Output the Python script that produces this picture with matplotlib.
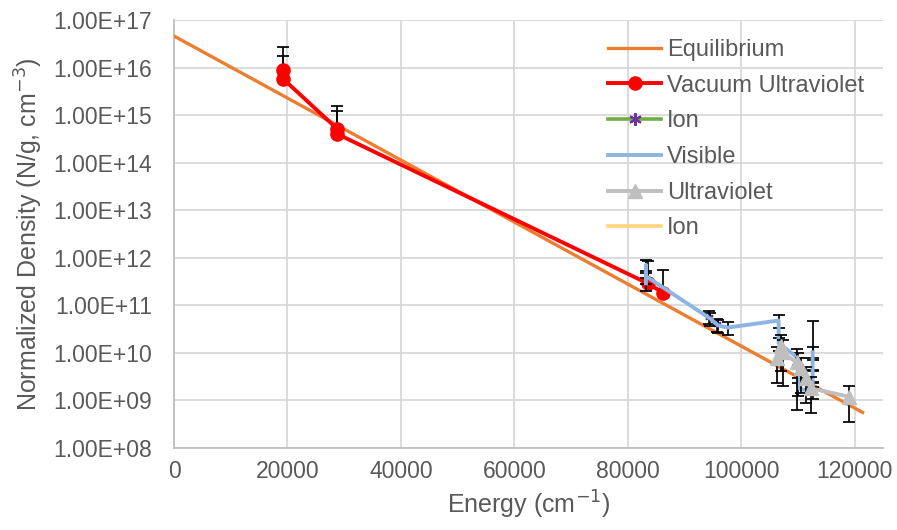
import matplotlib
matplotlib.use("Agg")
import matplotlib.pyplot as plt
from matplotlib.ticker import FixedLocator, FuncFormatter
from matplotlib.lines import Line2D

# ---------------- data ----------------
eq_x = [0, 121400]
eq_y = [4.6e16, 5.6e8]

vuv_x = [19300, 19300, 28800, 28800, 83500, 86200]
vuv_y = [8.9e15, 5.7e15, 5.1e14, 4.0e14, 2.9e11, 1.85e11]
vuv_err_plus = [2.0, 2.0, 2.0, 2.0, 2.0, 2.0]
vuv_err_minus = [0.0, 0.0, 0.0, 0.0, 0.0, 0.0]

ion_x = [94400, 95800]
ion_y = [5.8e10, 4.0e10]
ion_err = [0.3, 0.3]

vis_x = [83200, 83200, 83200, 94500, 95900, 97600, 106600, 106600,
         110100, 110100, 110100, 112600, 112600, 112600, 112600]
vis_y = [2.9e11, 7.0e11, 4.1e11, 5.3e10, 3.8e10, 3.4e10, 4.8e10, 1.6e10,
         7.7e9, 4.3e9, 1.8e9, 1.5e9, 3.4e9, 6.0e9, 1.03e10]
vis_err = [0.3] * 15

uv_x = [106300, 107000, 107300, 109800, 110600, 111400, 112300, 119000]
uv_y = [7.7e9, 1.37e10, 1.02e10, 6.3e9, 4.7e9, 2.9e9, 1.8e9, 1.2e9]
uv_err = [0.7, 0.7, 0.8, 0.9, 0.7, 0.7, 0.7, 0.7]

ion2_x = [112600]
ion2_y = [2.5e10]
ion2_err = [0.9]

x_ticks = [0, 20000, 40000, 60000, 80000, 100000, 120000]
y_ticks = [1e8, 1e9, 1e10, 1e11, 1e12, 1e13, 1e14, 1e15, 1e16, 1e17]

# ---------------- style ----------------
plt.rcParams['font.family'] = ['Liberation Sans', 'DejaVu Sans']
TXT = '#595959'
GRID = '#D9D9D9'

fig = plt.figure(figsize=(8.97, 5.30), dpi=100)
ax = fig.add_axes([174/897, 1 - 448/530, (883-174)/897, (448-20)/530])

ax.set_yscale('log')
ax.set_xlim(0, 125000)
ax.set_ylim(1e8, 1e17)

ax.xaxis.set_major_locator(FixedLocator(x_ticks))
ax.yaxis.set_major_locator(FixedLocator(y_ticks))
ax.yaxis.set_minor_locator(FixedLocator([]))
ax.xaxis.set_major_formatter(FuncFormatter(lambda v, p: f"{int(v)}"))
ax.yaxis.set_major_formatter(FuncFormatter(lambda v, p: f"{v:.2E}"))
ax.tick_params(axis='y', length=0, labelsize=16.5, labelcolor=TXT, pad=16)
ax.tick_params(axis='x', length=0, labelsize=16.5, labelcolor=TXT, pad=9)
ax.grid(True, color=GRID, linewidth=1.3)
ax.set_axisbelow(True)
for s in ['top', 'right']:
    ax.spines[s].set_visible(False)
for s in ['left', 'bottom']:
    ax.spines[s].set_color('#BFBFBF')
    ax.spines[s].set_linewidth(1.3)

ekw = dict(fmt='none', ecolor='black', elinewidth=1.25, capsize=4, capthick=1.25)

def errs(y, em, ep):
    return [[yy * m for yy, m in zip(y, em)], [yy * p for yy, p in zip(y, ep)]]

# Equilibrium
ax.plot(eq_x, eq_y, color='#ED7D31', lw=2.4, label='Equilibrium', zorder=3)

# Vacuum ultraviolet
ax.errorbar(vuv_x, vuv_y, yerr=errs(vuv_y, vuv_err_minus, vuv_err_plus), zorder=4, **ekw)
ax.plot(vuv_x, vuv_y, color='#FF0000', lw=2.8, marker='o', ms=9.5,
        label='Vacuum Ultraviolet', zorder=5)

# Ion
ax.errorbar(ion_x, ion_y, yerr=errs(ion_y, ion_err, ion_err), zorder=6, **ekw)
ax.plot(ion_x, ion_y, color='#70AD47', lw=2.6, marker=(6, 2, 0), ms=6,
        mec='#7030A0', mfc='#7030A0', mew=1.2, zorder=6)
ion_handle = Line2D([], [], color='#70AD47', lw=2.6, marker=(6, 2, 0), ms=9,
                    mec='#7030A0', mfc='#7030A0', mew=1.5)

# Visible
ax.errorbar(vis_x, vis_y, yerr=errs(vis_y, vis_err, vis_err), zorder=7, **ekw)
ax.plot(vis_x, vis_y, color='#8EB4E3', lw=2.8, label='Visible', zorder=7)

# Ultraviolet
ax.errorbar(uv_x, uv_y, yerr=errs(uv_y, uv_err, uv_err), zorder=8, **ekw)
ax.plot(uv_x, uv_y, color='#BFBFBF', lw=2.8, marker='^', ms=10,
        label='Ultraviolet', zorder=8)

# Ion (second)
ax.errorbar(ion2_x, ion2_y, yerr=errs(ion2_y, ion2_err, ion2_err), zorder=6, **ekw)
ax.plot(ion2_x, ion2_y, color='#FFD580', lw=2.6, zorder=6)
ion2_handle = Line2D([], [], color='#FFD580', lw=2.6)

ax.set_xlabel('Energy (cm$^{-1}$)', fontsize=18, color=TXT, labelpad=4)
ax.set_ylabel('Normalized Density (N/g, cm$^{-3}$)', fontsize=18, color=TXT, labelpad=6)

h, l = ax.get_legend_handles_labels()
handles = [h[0], h[1], ion_handle, h[2], h[3], ion2_handle]
labels = ['Equilibrium', 'Vacuum Ultraviolet', 'Ion', 'Visible', 'Ultraviolet', 'Ion']
leg = ax.legend(handles, labels, loc='upper left', bbox_to_anchor=(608/897, 1 - 39/530),
                bbox_transform=fig.transFigure, frameon=False, fontsize=17,
                handlelength=2.25, handletextpad=0.25, labelspacing=0.58,
                borderpad=0, borderaxespad=0)
for t in leg.get_texts():
    t.set_color(TXT)

fig.savefig('out.png', dpi=100)
